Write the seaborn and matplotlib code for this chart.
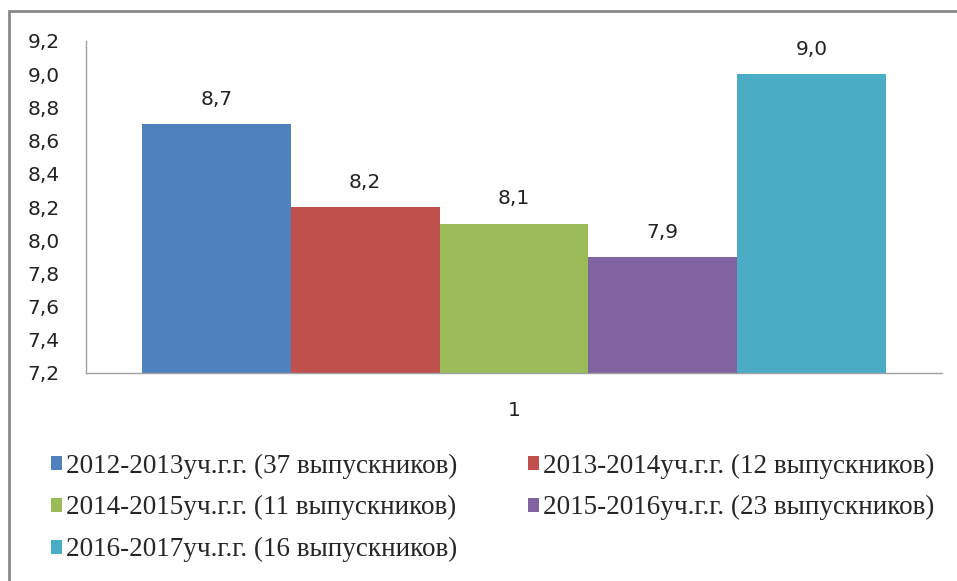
import matplotlib
matplotlib.use("Agg")
import matplotlib.pyplot as plt
import seaborn as sns
import pandas as pd
from matplotlib.patches import Rectangle
from matplotlib.ticker import FuncFormatter, MultipleLocator

categories = ["1"]
series = [
    "2012-2013уч.г.г. (37 выпускников)",
    "2013-2014уч.г.г. (12 выпускников)",
    "2014-2015уч.г.г. (11 выпускников)",
    "2015-2016уч.г.г. (23 выпускников)",
    "2016-2017уч.г.г. (16 выпускников)",
]
values = [8.7, 8.2, 8.1, 7.9, 9.0]
colors = ["#4F81BD", "#C0504D", "#9BBB59", "#8064A2", "#4BACC6"]

df = pd.DataFrame({"cat": categories * len(series), "series": series, "value": values})

sns.set_theme(style="white")
plt.rcParams["font.family"] = ["DejaVu Sans"]

fig = plt.figure(figsize=(9.57, 5.81), dpi=100)
ax = fig.add_axes([86 / 957, 1 - 373 / 581, (942 - 86) / 957, (373 - 41) / 581])

sns.barplot(data=df, x="cat", y="value", hue="series", palette=colors,
            ax=ax, width=0.8, saturation=1, legend=False, edgecolor="none")

ax.set_ylim(7.2, 9.2)
ax.set_xlim(-0.46, 0.46)
ax.yaxis.set_major_locator(MultipleLocator(0.2))
ax.yaxis.set_major_formatter(FuncFormatter(lambda v, p: f"{v:.1f}".replace(".", ",")))
ax.tick_params(axis="y", labelsize=14.5, colors="#222222", length=0, pad=19)
ax.tick_params(axis="x", labelsize=14.5, colors="#222222", length=0, pad=20)
ax.set_xlabel("")
ax.set_ylabel("")
for s in ["top", "right"]:
    ax.spines[s].set_visible(False)
for s in ["left", "bottom"]:
    ax.spines[s].set_color("#A0A0A0")
    ax.spines[s].set_linewidth(1)

for cont in ax.containers:
    labs = [f"{b.get_height():.1f}".replace(".", ",") for b in cont]
    ax.bar_label(cont, labels=labs, padding=11, fontsize=14.5, color="#222222")

# legend (row-wise order in 2 columns)
handles = [Rectangle((0, 0), 1, 1, facecolor=c, edgecolor="none") for c in colors]
order = [0, 2, 4, 1, 3]
leg = fig.legend([handles[i] for i in order], [series[i] for i in order],
                 ncol=2, loc="upper left", bbox_to_anchor=(27 / 957, 1 - 429 / 581),
                 frameon=False, handlelength=0.4, handleheight=0.4, handletextpad=0.15,
                 columnspacing=2.6, labelspacing=0.62, borderpad=0.4,
                 prop={"family": "Liberation Serif", "size": 19.5})

# outer frame
fig.patches.append(Rectangle((9 / 957, -0.05), 1.0, 1 - 11 / 581 + 0.05,
                             transform=fig.transFigure, fill=False,
                             edgecolor="#878787", linewidth=2))

fig.savefig("out.png", dpi=100)
